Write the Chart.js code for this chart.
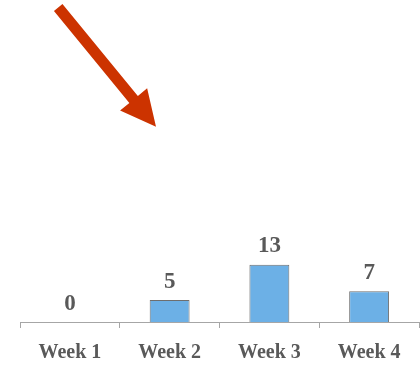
<!DOCTYPE html>
<html>
<head>
<meta charset="utf-8">
<script src="https://cdn.jsdelivr.net/npm/chart.js@4/dist/chart.umd.min.js"></script>
<style>
  html, body { margin: 0; padding: 0; background: #ffffff; }
  #wrap { width: 420px; height: 366px; position: relative; }
</style>
</head>
<body>
<div id="wrap"><canvas id="c" width="420" height="366"></canvas></div>
<script>
// Weekly counts
const weeks = ['Week 1', 'Week 2', 'Week 3', 'Week 4'];
const counts = [0, 5, 13, 7];

const textGrey = '#595959';
const labelFont = '"Liberation Serif", "Times New Roman", serif';

// Value labels above each bar
const valueLabels = {
  id: 'valueLabels',
  afterDatasetsDraw(chart) {
    const ctx = chart.ctx;
    const meta = chart.getDatasetMeta(0);
    ctx.save();
    ctx.fillStyle = textGrey;
    ctx.font = 'bold 23px ' + labelFont;
    ctx.textAlign = 'center';
    ctx.textBaseline = 'alphabetic';
    meta.data.forEach((bar, i) => {
      ctx.fillText(String(counts[i]), bar.x, bar.y - 12.5);
    });
    ctx.restore();
  }
};

// Red call-out arrow pointing down-right
const calloutArrow = {
  id: 'calloutArrow',
  afterDraw(chart) {
    const ctx = chart.ctx;
    const sx = 58.2, sy = 7.5, tx = 156, ty = 126.7;
    const shaftW = 11, headW = 35, headL = 35.3;
    const dx = tx - sx, dy = ty - sy;
    const len = Math.hypot(dx, dy);
    const ux = dx / len, uy = dy / len;
    const px = -uy, py = ux;
    const bx = tx - ux * headL, by = ty - uy * headL;
    ctx.save();
    ctx.fillStyle = '#cc3300';
    ctx.beginPath();
    ctx.moveTo(sx + px * shaftW / 2, sy + py * shaftW / 2);
    ctx.lineTo(bx + px * shaftW / 2, by + py * shaftW / 2);
    ctx.lineTo(bx + px * headW / 2, by + py * headW / 2);
    ctx.lineTo(tx, ty);
    ctx.lineTo(bx - px * headW / 2, by - py * headW / 2);
    ctx.lineTo(bx - px * shaftW / 2, by - py * shaftW / 2);
    ctx.lineTo(sx - px * shaftW / 2, sy - py * shaftW / 2);
    ctx.closePath();
    ctx.fill();
    ctx.restore();
  }
};

new Chart(document.getElementById('c'), {
  type: 'bar',
  data: {
    labels: weeks,
    datasets: [{
      data: counts,
      backgroundColor: '#6cb0e6',
      borderColor: '#6e6e6e',
      borderWidth: 1,
      barPercentage: 0.4,
      categoryPercentage: 1.0
    }]
  },
  options: {
    responsive: false,
    animation: false,
    layout: { padding: { top: 58, left: 20, right: 1, bottom: 1 } },
    plugins: {
      legend: { display: false },
      tooltip: { enabled: false }
    },
    scales: {
      x: {
        afterFit(scale) { scale.height = 43; },
        grid: {
          display: true,
          drawOnChartArea: false,
          drawTicks: true,
          tickLength: 6,
          color: '#a6a6a6',
          offset: true
        },
        border: { display: true, color: '#a6a6a6', width: 1 },
        ticks: {
          color: textGrey,
          padding: 13,
          font: { family: labelFont, size: 20, weight: 'bold' }
        }
      },
      y: {
        display: false,
        min: 0,
        max: 60
      }
    }
  },
  plugins: [valueLabels, calloutArrow]
});
</script>
</body>
</html>
